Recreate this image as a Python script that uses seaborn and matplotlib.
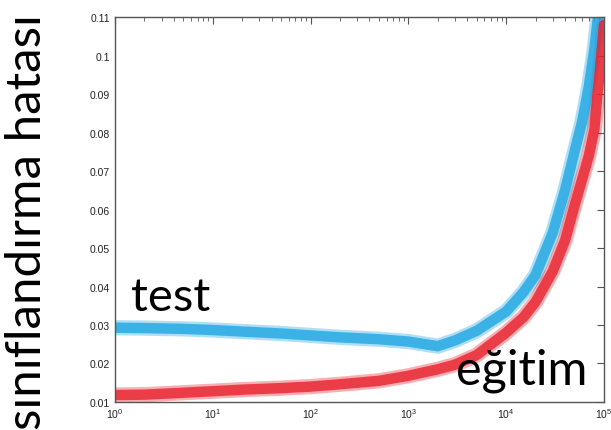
import pandas as pd
import seaborn as sns
import matplotlib.pyplot as plt
from matplotlib.ticker import LogLocator, FixedLocator, FormatStrFormatter

# egitim set sizes (x) and errors
sizes = [1, 2, 5, 10, 20, 50, 100, 200, 500, 1000, 2000, 3000, 5000,
         10000, 15000, 20000, 30000, 40000, 50000, 60000, 70000, 80000, 85000, 90000, 100000]
testErr = [0.0293, 0.0292, 0.0290, 0.0287, 0.0283, 0.0278, 0.0273, 0.0268, 0.0263, 0.0257,
           0.0245, 0.0260, 0.0285, 0.0335, 0.0385, 0.0430, 0.0540, 0.0650, 0.0750, 0.0830,
           0.0920, 0.1020, 0.1080, 0.1140, 0.1250]
egitimErr = [0.0118, 0.0119, 0.0124, 0.0128, 0.0132, 0.0136, 0.0140, 0.0146, 0.0155, 0.0168,
             0.0185, 0.0197, 0.0222, 0.0280, 0.0320, 0.0360, 0.0440, 0.0520, 0.0610, 0.0680,
             0.0740, 0.0810, 0.0890, 0.0950, 0.1080]
yticks = [0.01, 0.02, 0.03, 0.04, 0.05, 0.06, 0.07, 0.08, 0.09, 0.1, 0.11]

df = pd.DataFrame({
    'n': sizes + sizes,
    'hata': testErr + egitimErr,
    'set': ['test'] * len(sizes) + ['eğitim'] * len(sizes),
})

sns.set_style('white')
plt.rcParams['font.family'] = ['Lato', 'DejaVu Sans']

fig = plt.figure(figsize=(6.11, 4.31), dpi=100)
ax = fig.add_axes([0.188, 0.065, 0.8005, 0.893])

renk = {'test': '#1ea6e3', 'eğitim': '#e9202c'}
# soft halo + core, to mimic the speckled band
sns.lineplot(data=df, x='n', y='hata', hue='set', palette=renk, lw=11, alpha=0.35,
             legend=False, ax=ax)
sns.lineplot(data=df, x='n', y='hata', hue='set', palette=renk, lw=7.5, alpha=0.8,
             legend=False, ax=ax)

ax.set_xscale('log')
ax.set_xlim(1, 1e5)
ax.set_ylim(0.01, 0.11)
ax.yaxis.set_major_locator(FixedLocator(yticks))
ax.yaxis.set_major_formatter(FormatStrFormatter('%g'))
ax.xaxis.set_major_locator(LogLocator(base=10))
ax.xaxis.set_minor_locator(LogLocator(base=10, subs=range(2, 10)))

for side in ['left', 'right', 'top', 'bottom']:
    ax.spines[side].set_color('#555555')
    ax.spines[side].set_linewidth(1.0)
ax.tick_params(which='both', direction='in', top=True, right=True, color='#555555',
               labelsize=7.5, labelcolor='#222222')
ax.tick_params(which='major', length=5, width=0.8)
ax.tick_params(which='minor', length=3, width=0.6)
for lab in ax.get_yticklabels() + ax.get_xticklabels():
    lab.set_family('Liberation Sans')
ax.tick_params(axis='x', pad=3)
ax.set_xlabel('')
ax.set_ylabel('')

ax.text(1.45, 0.0338, 'test', fontsize=34, color='black')
ax.text(3100, 0.0147, 'eğitim', fontsize=35, color='black')

fig.text(0.045, 0.002, 'sınıflandırma hatası', rotation=90, fontsize=35.5,
         ha='center', va='bottom', color='black')

fig.savefig('out.png', dpi=100)
